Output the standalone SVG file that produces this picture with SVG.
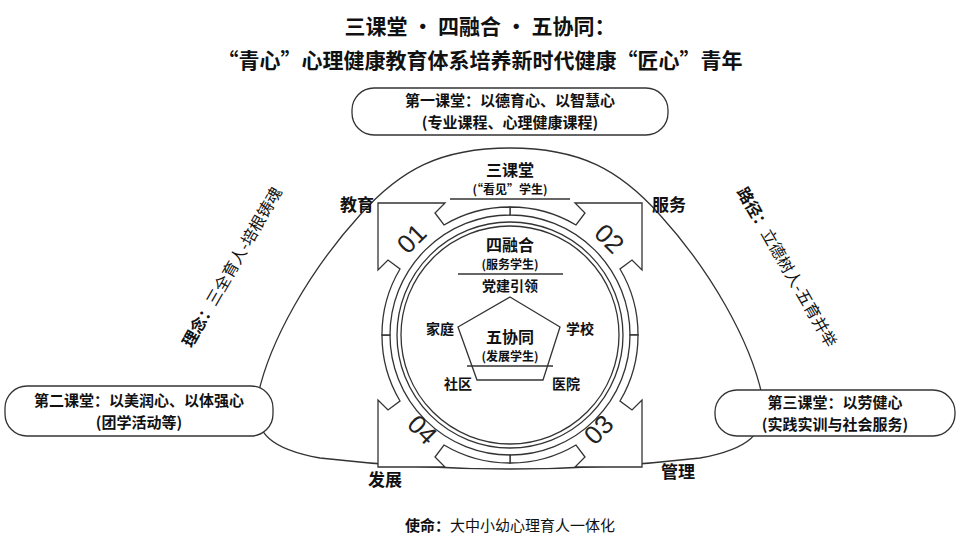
<svg xmlns="http://www.w3.org/2000/svg" xmlns:xlink="http://www.w3.org/1999/xlink" width="960" height="540" viewBox="0 0 960 540">
<style>
text{font-family:"Noto Sans CJK SC","Liberation Sans",sans-serif;fill:#111;text-anchor:middle}
.b{font-weight:bold}
.ln{fill:none;stroke:#333;stroke-width:1.3}
.pc{fill:#fff;stroke:#333;stroke-width:1.3}
.num{font-family:"Liberation Sans",sans-serif;font-size:26px;fill:#222}
</style>
<defs>
<path id="q" class="pc" d="M0,-128 A128,128 0 0 1 66,-110 L75,-122 L65,-132 L132,-132 L132,-65 L122,-75 L110,-66 A128,128 0 0 1 128,0 L120,0 A120,120 0 0 0 0,-120 Z"/>
</defs>
<rect width="960" height="540" fill="#fff"/>
<g id="title">
<text x="480" y="34" class="b" font-size="21">三课堂 · 四融合 · 五协同：</text>
<text x="480" y="68" class="b" font-size="21">“青心”心理健康教育体系培养新时代健康“匠心”青年</text>
</g>
<g id="outer"><path class="pc" d="M510,148 C440,148 400,170 360,215 C310,270 270,340 258,395 C250,435 275,450 320,458 Q510,480 700,458 C745,450 770,435 762,395 C750,340 710,270 660,215 C620,170 580,148 510,148Z"/></g>
<g id="ring" transform="translate(510,335)">
<use xlink:href="#q"/>
<use xlink:href="#q" transform="rotate(90)"/>
<use xlink:href="#q" transform="rotate(180)"/>
<use xlink:href="#q" transform="rotate(270)"/>
<circle r="113" class="ln"/>
<circle r="109" class="ln"/>
</g>
<g id="nums">
<text class="num" transform="translate(418,245) rotate(-45)">01</text>
<text class="num" transform="translate(603,245) rotate(45)">02</text>
<text class="num" transform="translate(605,436) rotate(-45)">03</text>
<text class="num" transform="translate(416,436) rotate(45)">04</text>
</g>
<g id="box1"><rect x="352" y="88" width="316" height="47" rx="22" class="pc"/>
<text x="510" y="106" class="b" font-size="15">第一课堂：以德育心、以智慧心</text>
<text x="510" y="128" class="b" font-size="15">(专业课程、心理健康课程)</text></g>
<g id="box2"><rect x="5" y="386" width="268" height="50" rx="22" class="pc"/>
<text x="139" y="406" class="b" font-size="15">第二课堂：以美润心、以体强心</text>
<text x="139" y="428" class="b" font-size="15">(团学活动等)</text></g>
<g id="box3"><rect x="715" y="390" width="240" height="46" rx="22" class="pc"/>
<text x="835" y="408" class="b" font-size="15">第三课堂：以劳健心</text>
<text x="835" y="430" class="b" font-size="15">(实践实训与社会服务)</text></g>
<g id="labels" font-size="17">
<text x="357" y="211" class="b">教育</text>
<text x="669" y="211" class="b">服务</text>
<text x="385" y="486" class="b">发展</text>
<text x="678" y="478" class="b">管理</text>
</g>
<text transform="translate(237,270) rotate(-60)" font-size="16"><tspan class="b">理念：</tspan>三全育人-培根铸魂</text>
<text transform="translate(782,270) rotate(60)" font-size="16"><tspan class="b">路径：</tspan>立德树人-五育并举</text>
<g id="sanketang">
<text x="510" y="176" class="b" font-size="16">三课堂</text>
<text x="510" y="194" class="b" font-size="12">(“看见”学生)</text>
<line x1="450" y1="199" x2="570" y2="199" class="ln"/></g>
<g id="sironghe">
<text x="510" y="251" class="b" font-size="16">四融合</text>
<text x="510" y="269" class="b" font-size="12">(服务学生)</text>
<line x1="458" y1="274" x2="563" y2="274" class="ln"/>
<text x="510" y="291" class="b" font-size="14">党建引领</text></g>
<g id="wuxietong">
<polygon points="510,297 560,327 543,380 477,380 458,327" class="pc"/>
<text x="510" y="343" class="b" font-size="16">五协同</text>
<text x="510" y="361" class="b" font-size="12">(发展学生)</text>
<line x1="467" y1="366" x2="553" y2="366" class="ln"/>
<text x="440" y="334" class="b" font-size="14">家庭</text>
<text x="580" y="334" class="b" font-size="14">学校</text>
<text x="458" y="389" class="b" font-size="14">社区</text>
<text x="566" y="389" class="b" font-size="14">医院</text></g>
<text x="510" y="531" font-size="15"><tspan class="b">使命：</tspan>大中小幼心理育人一体化</text>
</svg>
